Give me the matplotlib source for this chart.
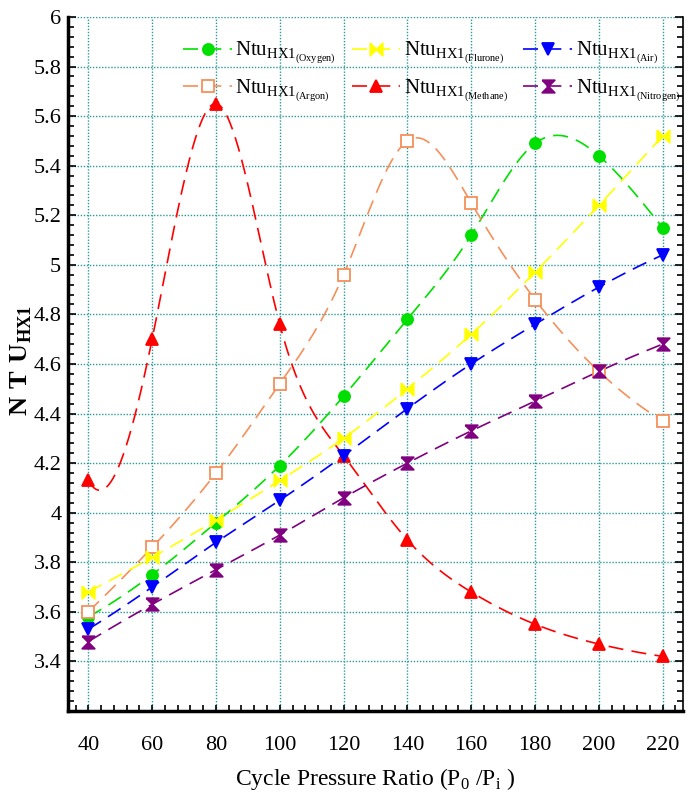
import numpy as np
import matplotlib.pyplot as plt
from matplotlib.path import Path
from matplotlib.ticker import MultipleLocator

plt.rcParams['font.family'] = 'Liberation Serif'
plt.rcParams['mathtext.fontset'] = 'custom'
plt.rcParams['mathtext.rm'] = 'Liberation Serif'
plt.rcParams['mathtext.bf'] = 'Liberation Serif:bold'

pressure_ratio = [40, 60, 80, 100, 120, 140, 160, 180, 200, 220]
ntu_oxygen = [3.58, 3.75, 3.96, 4.19, 4.47, 4.78, 5.12, 5.49, 5.44, 5.15]
ntu_flurone = [3.68, 3.82, 3.97, 4.13, 4.30, 4.50, 4.72, 4.97, 5.24, 5.52]
ntu_air = [3.53, 3.70, 3.88, 4.05, 4.23, 4.42, 4.60, 4.76, 4.91, 5.04]
ntu_argon = [3.60, 3.86, 4.16, 4.52, 4.96, 5.50, 5.25, 4.86, 4.57, 4.37]
ntu_methane = [4.13, 4.70, 5.65, 4.76, 4.23, 3.89, 3.68, 3.55, 3.47, 3.42]
ntu_nitrogen = [3.48, 3.63, 3.77, 3.91, 4.06, 4.20, 4.33, 4.45, 4.57, 4.68]


def spline_line(x, y, n=400):
    # cubic spline, end curvature halfway between parabolic run-out and
    # not-a-knot; only used to draw the smooth connecting line
    x = np.asarray(x, float)
    y = np.asarray(y, float)
    k = len(x)
    h = np.diff(x)
    A = np.zeros((k, k))
    r = np.zeros(k)
    A[0, 0:3] = [1, -1.5, 0.5]
    A[-1, -3:] = [0.5, -1.5, 1]
    for i in range(1, k - 1):
        A[i, i - 1] = h[i - 1]
        A[i, i] = 2 * (h[i - 1] + h[i])
        A[i, i + 1] = h[i]
        r[i] = 3 * ((y[i + 1] - y[i]) / h[i] - (y[i] - y[i - 1]) / h[i - 1])
    c = np.linalg.solve(A, r)
    b = (y[1:] - y[:-1]) / h - h * (2 * c[:-1] + c[1:]) / 3
    d = (c[1:] - c[:-1]) / (3 * h)
    xs = np.linspace(x[0], x[-1], n)
    idx = np.clip(np.searchsorted(x, xs) - 1, 0, k - 2)
    dx = xs - x[idx]
    ys = y[idx] + b[idx] * dx + c[idx] * dx ** 2 + d[idx] * dx ** 3
    return xs, ys


bowtie_h = Path([(-1, 1), (-1, -1), (0, 0), (1, -1), (1, 1), (0, 0), (-1, 1)])
bowtie_v = Path([(-1, 1), (1, 1), (0, 0), (1, -1), (-1, -1), (0, 0), (-1, 1)])

series = [
    ('Oxygen', ntu_oxygen, '#00e000', 'o', 8, None),
    ('Argon', ntu_argon, '#f5905a', 's', 9, 'white'),
    ('Flurone', ntu_flurone, '#ffff00', bowtie_h, 9, None),
    ('Methane', ntu_methane, '#ff0000', '^', 9, None),
    ('Air', ntu_air, '#0000ff', 'v', 9, None),
    ('Nitrogen', ntu_nitrogen, '#800080', bowtie_v, 9, None),
]

fig = plt.figure(figsize=(6.96, 8.01), dpi=100)
ax = fig.add_axes([0.098, 0.1124, 0.883, 0.8664])

handles = []
for name, vals, col, mk, ms, fc in series:
    xs, ys = spline_line(pressure_ratio, vals)
    ax.plot(xs, ys, color=col, lw=1.2, ls=(0, (9, 5)), zorder=3)
    ax.plot(pressure_ratio, vals, ls='none', marker=mk, ms=ms, color=col,
            mfc=fc if fc else col, mec=col, mew=1.3, zorder=4)
    h, = ax.plot([], [], color=col, lw=1.2, ls=(0, (9, 5)), marker=mk, ms=ms,
                 mfc=fc if fc else col, mec=col, mew=1.3,
                 label=r'Ntu$_{\mathrm{HX1}_{\mathrm{(' + name + ')}}}$')
    handles.append(h)

ax.set_xlim(33.7, 226.3)
ax.set_ylim(3.2, 6.0)
ax.xaxis.set_major_locator(MultipleLocator(20))
ax.xaxis.set_minor_locator(MultipleLocator(4))
ax.set_yticks(np.arange(3.4, 6.01, 0.2))
ax.set_yticklabels(['3.4', '3.6', '3.8', '4', '4.2', '4.4', '4.6', '4.8',
                    '5', '5.2', '5.4', '5.6', '5.8', '6'])
ax.yaxis.set_minor_locator(MultipleLocator(0.04))

ax.grid(True, which='major', color='#2a9a9a', ls=(0, (1, 1.2)), lw=1.0)
ax.tick_params(which='both', direction='in', right=True, top=False,
               labelsize=16, width=1.2)
ax.tick_params(axis='x', which='both', length=4, pad=18)
ax.tick_params(axis='y', which='major', length=6, pad=5)
ax.tick_params(axis='y', which='minor', length=4)

ax.spines['top'].set_visible(False)
ax.spines['left'].set_linewidth(2.5)
ax.spines['bottom'].set_linewidth(2.5)
ax.spines['right'].set_linewidth(1.2)

ax.set_xlabel(r'Cycle Pressure Ratio (P$_{\mathrm{0}}$ /P$_{\mathrm{i}}$ )',
              fontsize=17, labelpad=8)
ax.set_ylabel(r'$\mathbf{N\,\,T\,\,U}_{\mathbf{HX1}}$', fontsize=19)
ax.yaxis.set_label_coords(-0.056, 0.505)

fig.legend(handles=handles, ncol=3, loc='upper left',
           bbox_to_anchor=(0.263, 0.95), frameon=False, fontsize=15,
           borderpad=0, borderaxespad=0,
           handlelength=2.35, handletextpad=0.15, columnspacing=0.75,
           labelspacing=0.55, numpoints=1)

fig.savefig('out.png', dpi=100)
